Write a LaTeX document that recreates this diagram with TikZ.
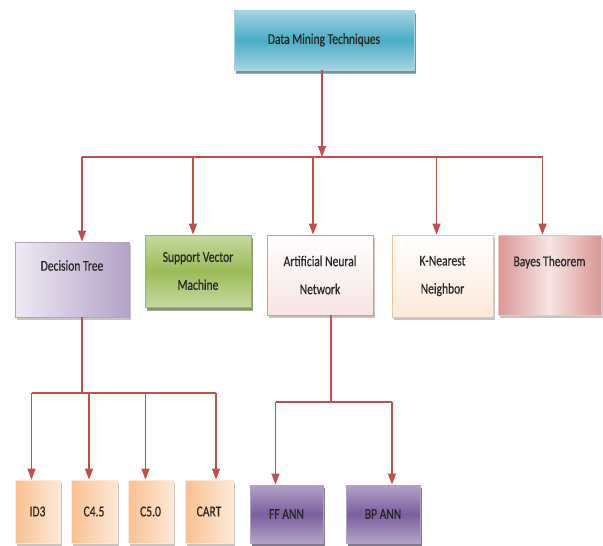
\documentclass[tikz,border=0pt]{standalone}
\usepackage{fontspec}
\setmainfont{Carlito}[FakeStretch=0.77,FakeBold=0.4]
\usetikzlibrary{positioning,calc,arrows.meta,shadows}

\definecolor{linkred}{HTML}{C0504D}
\definecolor{tealdark}{HTML}{4BACC6}
\definecolor{teallight}{HTML}{A5D5E2}
\definecolor{tealshadow}{HTML}{2E5E6A}
\definecolor{lavdark}{HTML}{B3A2C7}
\definecolor{lavlight}{HTML}{EEEAF3}
\definecolor{greendark}{HTML}{9BBB59}
\definecolor{greenlight}{HTML}{C6D9A0}
\definecolor{greenshadow}{HTML}{4F6228}
\definecolor{pinkdark}{HTML}{D99694}
\definecolor{pinklight}{HTML}{F6E4E3}
\definecolor{orangedark}{HTML}{FAC090}
\definecolor{orangelight}{HTML}{FDE9D9}
\definecolor{purpledark}{HTML}{7B5E9E}
\definecolor{purplelight}{HTML}{B3A2C7}
\definecolor{purpleshadow}{HTML}{3F3151}

\tikzset{
    box/.style={draw, line width=0.8pt, align=center, inner sep=0pt,
        font=\fontsize{15}{28}\selectfont, text=black!85,
        drop shadow={shadow xshift=2pt, shadow yshift=-3pt, fill=black!45}},
    topbox/.style={box, draw=teallight, top color=teallight, bottom color=teallight, middle color=tealdark,
        drop shadow={shadow xshift=2pt, shadow yshift=-4pt, fill=tealshadow}},
    lavbox/.style={box, draw=lavdark, left color=lavlight, right color=lavdark},
    greenbox/.style={box, draw=greendark, top color=greenlight, bottom color=greenlight, middle color=greendark,
        drop shadow={shadow xshift=2pt, shadow yshift=-4pt, fill=greenshadow}},
    annbox/.style={box, draw=pinkdark, top color=white, bottom color=pinklight},
    knnbox/.style={box, draw=orangedark, top color=white, bottom color=orangelight},
    bayesbox/.style={box, draw=pinklight!60!pinkdark, left color=pinkdark, right color=pinkdark, middle color=pinklight},
    leafbox/.style={box, draw=orangelight, left color=orangedark, right color=orangelight},
    annleaf/.style={box, draw=purplelight, top color=purplelight, bottom color=purplelight, middle color=purpledark,
        drop shadow={shadow xshift=2pt, shadow yshift=-3pt, fill=purpleshadow}},
    link/.style={draw=linkred, line width=1.5pt},
    bus/.style={draw=linkred, line width=2.2pt},
    arr/.style={link, -{Triangle[width=8pt,length=11pt]}}
}

\begin{document}
\begin{tikzpicture}[x=1pt,y=-1pt]
    \useasboundingbox (0,0) rectangle (603,546);

    \draw
        node[topbox,minimum width=180pt,minimum height=60pt] (dmt) at (324,40) {Data Mining Techniques}

        node[lavbox,minimum width=114pt,minimum height=75pt] (dt) at (72,279.5) {Decision Tree\\\mbox{}}
        node[greenbox,minimum width=106pt,minimum height=72pt] (svm) at (198,271) {Support Vector\\Machine}
        node[annbox,minimum width=106pt,minimum height=80pt] (ann) at (320,275) {Artificial Neural\\Network}
        node[knnbox,minimum width=101pt,minimum height=82pt] (knn) at (442.5,276) {K-Nearest\\Neighbor}
        node[bayesbox,minimum width=103pt,minimum height=80pt] (bayes) at (549.5,275) {Bayes Theorem\\\mbox{}}

        node[leafbox,minimum width=45pt,minimum height=63pt] (id3) at (37.5,511.5) {ID3}
        node[leafbox,minimum width=46pt,minimum height=63pt] (c45) at (94,511.5) {C4.5}
        node[leafbox,minimum width=45pt,minimum height=63pt] (c50) at (150.5,511.5) {C5.0}
        node[leafbox,minimum width=48pt,minimum height=63pt] (cart) at (209,511.5) {CART}

        node[annleaf,minimum width=73pt,minimum height=58pt] (ff) at (286.5,514) {FF ANN}
        node[annleaf,minimum width=74pt,minimum height=58pt] (bp) at (383,514) {BP ANN}
    ;

    % where the arrows meet the boxes
    \coordinate (dtin) at ([xshift=10pt]dt.north);
    \coordinate (svmin) at ([xshift=-5pt]svm.north);
    \coordinate (annin) at ([xshift=-7pt]ann.north);
    \coordinate (knnin) at ([xshift=-6pt]knn.north);
    \coordinate (bayesin) at ([xshift=-7pt]bayes.north);
    \coordinate (id3in) at ([xshift=-6pt]id3.north);
    \coordinate (c45in) at ([xshift=-5pt]c45.north);
    \coordinate (c50in) at ([xshift=-5pt]c50.north);
    \coordinate (cartin) at ([xshift=7pt]cart.north);
    \coordinate (ffin) at ([xshift=-11pt]ff.north);
    \coordinate (bpin) at ([xshift=9pt]bp.north);

    % bus levels
    \coordinate (bus1) at (322,157);
    \coordinate (bus2) at ([xshift=10pt]dt.south |- 0,393);
    \coordinate (bus3) at ([xshift=11pt]ann.south |- 0,402);

    \draw[arr] (dmt.south -| bus1) -- (bus1);
    \draw[bus] (bus1 -| dtin) -- (bus1 -| bayesin);
    \foreach \n in {dtin,svmin,annin,knnin,bayesin}
        \draw[arr] (bus1 -| \n) -- (\n);

    \draw[link] (dt.south -| bus2) -- (bus2);
    \draw[bus] (bus2 -| id3in) -- (bus2 -| cartin);
    \foreach \n in {id3in,c45in,c50in,cartin}
        \draw[arr] (bus2 -| \n) -- (\n);

    \draw[link] (ann.south -| bus3) -- (bus3);
    \draw[bus] (bus3 -| ffin) -- (bus3 -| bpin);
    \foreach \n in {ffin,bpin}
        \draw[arr] (bus3 -| \n) -- (\n);
\end{tikzpicture}
\end{document}
